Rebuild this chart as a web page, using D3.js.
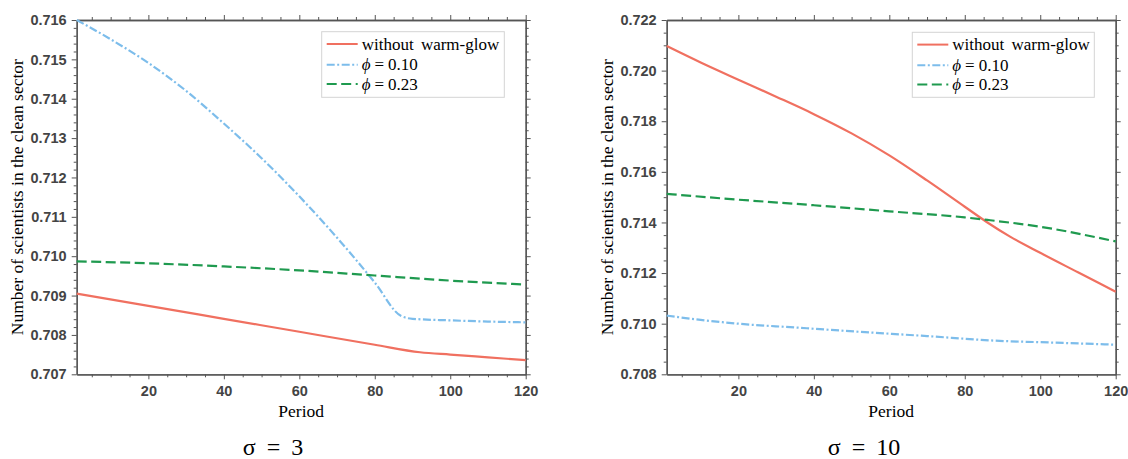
<!DOCTYPE html>
<html>
<head>
<meta charset="utf-8">
<script src="https://cdn.jsdelivr.net/npm/d3@7"></script>
<style>
  body { margin: 0; background: #fff; }
  svg { display: block; }
</style>
</head>
<body>
<svg id="fig" width="1128" height="459"></svg>
<script>
// ---- Data: clean-sector scientists over time, sigma = 3 ----
const s3NoGlowT  = [1, 20, 40, 60, 80, 92, 100, 110, 120];
const s3NoGlowV  = [0.70905, 0.70874, 0.70841, 0.70808, 0.70775, 0.70756, 0.70750, 0.70743, 0.70736];
const s3Phi10T   = [1, 10, 20, 30, 40, 50, 60, 70, 80, 87, 90, 100, 110, 120];
const s3Phi10V   = [0.71600, 0.71551, 0.71491, 0.71420, 0.71337, 0.71249, 0.71152, 0.71047, 0.70933, 0.70848, 0.70841, 0.70837, 0.70834, 0.70832];
const s3Phi23T   = [1, 20, 40, 60, 80, 100, 120];
const s3Phi23V   = [0.70987, 0.70982, 0.70974, 0.70964, 0.70951, 0.70938, 0.70928];

// ---- Data: sigma = 10 ----
const s10NoGlowT = [1, 10, 20, 30, 40, 50, 60, 70, 80, 86, 92, 100, 110, 120];
const s10NoGlowV = [0.72097, 0.72032, 0.71964, 0.71897, 0.71828, 0.71752, 0.71665, 0.71566, 0.71462, 0.71400, 0.71344, 0.71280, 0.71203, 0.71126];
const s10Phi10T  = [1, 10, 20, 35, 52, 70, 88, 104, 120];
const s10Phi10V  = [0.71032, 0.71015, 0.71000, 0.70985, 0.70968, 0.70951, 0.70933, 0.70925, 0.70917];
const s10Phi23T  = [1, 20, 31, 40, 60, 80, 86, 100, 120];
const s10Phi23V  = [0.71513, 0.71490, 0.71478, 0.71468, 0.71444, 0.71420, 0.71410, 0.71383, 0.71325];

// ---- Axis ticks ----
const xMajorTicks = [20, 40, 60, 80, 100, 120];
const s3YMajor    = [0.707, 0.708, 0.709, 0.710, 0.711, 0.712, 0.713, 0.714, 0.715, 0.716];
const s10YMajor   = [0.708, 0.710, 0.712, 0.714, 0.716, 0.718, 0.720, 0.722];

const seriesNames = ["without warm-glow", "\u03D5 = 0.10", "\u03D5 = 0.23"];
const panelTitles = ["\u03C3 = 3", "\u03C3 = 10"];
const xTitle = "Period";
const yTitle = "Number of scientists in the clean sector";

const colors = ["#F07060", "#7DBDEB", "#1F9A4F"];
const dashes = [null, "8,2.5,2,2.5", "10,4.5"];

const svg = d3.select("#fig");
const plotTop = 20, plotBottom = 374.3;

const panels = [
  { x0: 76.7, x1: 525.7, yDom: [0.707, 0.716], yMajor: s3YMajor, yMinorStep: 0.0002,
    series: [[s3NoGlowT, s3NoGlowV], [s3Phi10T, s3Phi10V], [s3Phi23T, s3Phi23V]],
    legend: { x: 321.7, y: 31.7, w: 182.6, h: 65.6 }, yLabelX: 17, titleX: 273 },
  { x0: 666.7, x1: 1115.7, yDom: [0.708, 0.722], yMajor: s10YMajor, yMinorStep: 0.0005,
    series: [[s10NoGlowT, s10NoGlowV], [s10Phi10T, s10Phi10V], [s10Phi23T, s10Phi23V]],
    legend: { x: 912.3, y: 32.3, w: 182, h: 65 }, yLabelX: 607, titleX: 864 }
];

const tickFont = "'Liberation Sans', Arial, sans-serif";
const serif = "'Liberation Serif', 'Times New Roman', serif";

function minorValues(lo, hi, step, majors) {
  const out = [];
  const n = Math.round((hi - lo) / step);
  for (let i = 0; i <= n; i++) {
    const v = +(lo + i * step).toFixed(6);
    if (!majors.some(m => Math.abs(m - v) < step / 10)) out.push(v);
  }
  return out;
}

panels.forEach((p, pi) => {
  const x = d3.scaleLinear().domain([1, 120]).range([p.x0, p.x1]);
  const y = d3.scaleLinear().domain(p.yDom).range([plotBottom, plotTop]);
  const g = svg.append("g");

  const xMinor = minorValues(5, 115, 5, xMajorTicks);
  const yMinor = minorValues(p.yDom[0], p.yDom[1], p.yMinorStep, p.yMajor);

  function styleAxis(sel) {
    sel.select(".domain").attr("stroke", "#555").attr("stroke-width", 1.3);
    sel.selectAll(".tick line").attr("stroke", "#555").attr("stroke-width", 1);
    sel.selectAll(".tick text")
      .attr("font-family", tickFont).attr("font-weight", "bold")
      .attr("font-size", 14.5).attr("fill", "#444");
  }

  // bottom axis with labels
  g.append("g").attr("transform", `translate(0,${plotBottom})`)
    .call(d3.axisBottom(x).tickValues(xMajorTicks).tickSize(5).tickSizeOuter(0).tickPadding(6).tickFormat(d3.format("d")))
    .call(styleAxis);
  g.append("g").attr("transform", `translate(0,${plotBottom})`)
    .call(d3.axisBottom(x).tickValues(xMinor).tickSize(3).tickSizeOuter(0).tickFormat(""))
    .call(styleAxis);
  // top axis
  g.append("g").attr("transform", `translate(0,${plotTop})`)
    .call(d3.axisTop(x).tickValues(xMajorTicks).tickSize(5).tickSizeOuter(0).tickFormat(""))
    .call(styleAxis);
  g.append("g").attr("transform", `translate(0,${plotTop})`)
    .call(d3.axisTop(x).tickValues(xMinor).tickSize(3).tickSizeOuter(0).tickFormat(""))
    .call(styleAxis);
  // left axis with labels
  g.append("g").attr("transform", `translate(${p.x0},0)`)
    .call(d3.axisLeft(y).tickValues(p.yMajor).tickSize(5).tickSizeOuter(0).tickPadding(5).tickFormat(d3.format(".3f")))
    .call(styleAxis);
  g.append("g").attr("transform", `translate(${p.x0},0)`)
    .call(d3.axisLeft(y).tickValues(yMinor).tickSize(3).tickSizeOuter(0).tickFormat(""))
    .call(styleAxis);
  // right axis
  g.append("g").attr("transform", `translate(${p.x1},0)`)
    .call(d3.axisRight(y).tickValues(p.yMajor).tickSize(5).tickSizeOuter(0).tickFormat(""))
    .call(styleAxis);
  g.append("g").attr("transform", `translate(${p.x1},0)`)
    .call(d3.axisRight(y).tickValues(yMinor).tickSize(3).tickSizeOuter(0).tickFormat(""))
    .call(styleAxis);

  // series lines
  const line = d3.line().x(d => x(d[0])).y(d => y(d[1])).curve(d3.curveMonotoneX);
  p.series.forEach((s, si) => {
    const pts = s[0].map((t, i) => [t, s[1][i]]);
    g.append("path").datum(pts)
      .attr("d", line)
      .attr("fill", "none")
      .attr("stroke", colors[si])
      .attr("stroke-width", 2.2)
      .attr("stroke-dasharray", dashes[si]);
  });

  // legend
  const L = p.legend;
  const lg = g.append("g");
  lg.append("rect").attr("x", L.x).attr("y", L.y).attr("width", L.w).attr("height", L.h)
    .attr("fill", "#fff").attr("stroke", "#d4d4d4").attr("stroke-width", 1);
  const rowY = [L.y + 12.3, L.y + 33, L.y + 52.3];
  seriesNames.forEach((name, si) => {
    lg.append("line")
      .attr("x1", L.x + 5).attr("x2", L.x + 36)
      .attr("y1", rowY[si]).attr("y2", rowY[si])
      .attr("stroke", colors[si]).attr("stroke-width", 2)
      .attr("stroke-dasharray", dashes[si]);
    const t = lg.append("text")
      .attr("x", L.x + 40).attr("y", rowY[si] + 5.5)
      .attr("font-family", serif).attr("font-size", 17).attr("fill", "#000");
    if (si === 0) {
      t.attr("word-spacing", 3).text(name);
    } else {
      t.append("tspan").attr("font-style", "italic").text(name.slice(0, 1));
      t.append("tspan").attr("dx", 4).text("=");
      t.append("tspan").attr("dx", 4).text(name.slice(4));
    }
  });

  // axis titles
  g.append("text")
    .attr("x", (p.x0 + p.x1) / 2).attr("y", 417)
    .attr("text-anchor", "middle")
    .attr("font-family", serif).attr("font-size", 17.5).attr("fill", "#000")
    .text(xTitle);
  g.append("text")
    .attr("transform", `translate(${p.yLabelX},${(plotTop + plotBottom) / 2}) rotate(-90)`)
    .attr("text-anchor", "middle").attr("dominant-baseline", "central")
    .attr("font-family", serif).attr("font-size", 17.5).attr("fill", "#000")
    .text(yTitle);

  // panel caption
  g.append("text")
    .attr("x", p.titleX).attr("y", 455)
    .attr("text-anchor", "middle")
    .attr("font-family", serif).attr("font-size", 24).attr("fill", "#000")
    .attr("word-spacing", 5)
    .text(panelTitles[pi]);
});
</script>
</body>
</html>
